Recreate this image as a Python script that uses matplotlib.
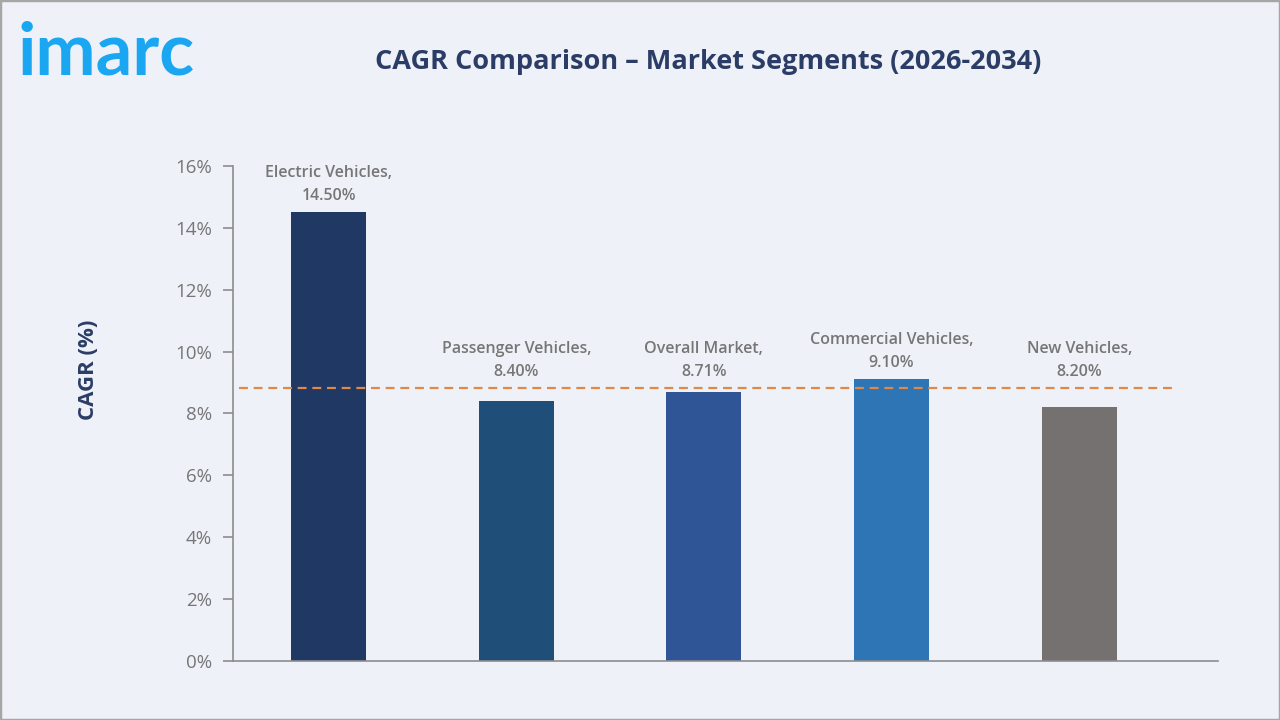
import matplotlib
matplotlib.use("Agg")
import matplotlib.pyplot as plt
from matplotlib.patches import Rectangle
from matplotlib.ticker import FuncFormatter

# data
segments = ["Electric Vehicles", "Passenger Vehicles", "Overall Market",
            "Commercial Vehicles", "New Vehicles"]
cagr = [14.50, 8.40, 8.71, 9.10, 8.20]
bar_colors = ["#203864", "#1f4e79", "#2f5597", "#2e75b6", "#767171"]
reference_line = 8.82
yticks = [0, 2, 4, 6, 8, 10, 12, 14, 16]

bg = "#eef2f8"
navy = "#2b3d66"
gray = "#767676"

plt.rcParams['font.family'] = ['Open Sans', 'DejaVu Sans']

fig = plt.figure(figsize=(12.8, 7.2), dpi=100, facecolor=bg)
fig.patches.append(Rectangle((0, 0), 1, 1, transform=fig.transFigure,
                             fill=False, edgecolor="#a6a6a6", linewidth=2.5))

ax = fig.add_axes([0.182, 0.082, 0.7696, 0.6874])
ax.set_facecolor(bg)

x = range(len(segments))
ax.bar(x, cagr, width=0.4, color=bar_colors, zorder=2)
ax.axhline(reference_line, color="#e0874a", linestyle=(0, (4, 2.6)),
           linewidth=1.6, xmin=0.006, xmax=0.956, zorder=3)

# labels sit above the bar or above the dashed line, whichever is higher
for i, (name, v) in enumerate(zip(segments, cagr)):
    anchor = max(v, reference_line)
    ax.annotate(f"{name},\n{v:.2f}%", (i, anchor), xytext=(0, 6),
                textcoords="offset points", ha="center", va="bottom",
                fontsize=11.5, color=gray, fontweight="semibold",
                linespacing=1.6, zorder=4)

ax.set_xlim(-0.51, 4.74)
ax.set_ylim(0, 16)
ax.set_yticks(yticks)
ax.yaxis.set_major_formatter(FuncFormatter(lambda v, p: f"{v:.0f}%"))
ax.set_xticks([])
for s in ["top", "right"]:
    ax.spines[s].set_visible(False)
for s in ["left", "bottom"]:
    ax.spines[s].set_color("#8c8c8c")
    ax.spines[s].set_linewidth(1.2)
ax.tick_params(axis="y", colors="#8c8c8c", labelcolor=gray, length=7,
               width=1.2, labelsize=13.5, pad=8)

fig.text(0.069, 0.486, "CAGR (%)", rotation=90, ha="center", va="center",
         fontsize=16, fontweight="bold", color=navy)

fig.text(0.553, 0.914, "CAGR Comparison \u2013 Market Segments (2026-2034)",
         ha="center", va="center", fontsize=19.5, fontweight="bold", color=navy)
fig.text(0.014, 0.896, "imarc", ha="left", va="baseline", fontsize=52,
         fontweight="bold", color="#1ba6f2", family=["Lato", "DejaVu Sans"])

fig.savefig("out.png", dpi=100, facecolor=bg)
